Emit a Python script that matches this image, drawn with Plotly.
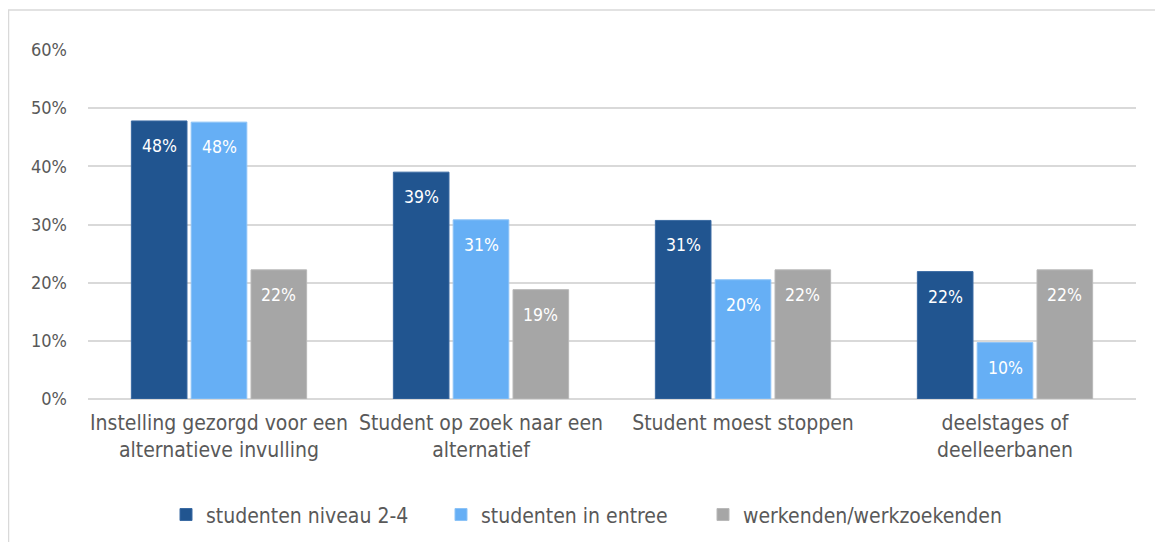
import plotly.graph_objects as go

categories = ["Instelling gezorgd voor een<br>alternatieve invulling",
              "Student op zoek naar een<br>alternatief",
              "Student moest stoppen",
              "deelstages of<br>deelleerbanen"]
series_names = ["studenten niveau 2-4", "studenten in entree", "werkenden/werkzoekenden"]
niveau = [0.478, 0.390, 0.307, 0.219]
entree = [0.476, 0.308, 0.205, 0.097]
werkenden = [0.222, 0.188, 0.222, 0.222]
colors = ["#215590", "#66AFF5", "#A6A6A6"]
line_colors = ["#3A6AA3", "#8CC3F7", "#B8B8B8"]

FONT = "DejaVu Sans Condensed, Noto Sans, sans-serif"

# body of the html page has an 8px margin
W, H = 1155, 534
L, R, T, B = 80, 27, 42, 143
pw = W - L - R
ph = H - T - B
BARGAP = 0.315
slot = pw / len(categories) * (1 - BARGAP) / 3
legend_left = [172, 447, 709]  # figure px where each legend entry starts

fig = go.Figure()
annotations = []
all_series = [niveau, entree, werkenden]
legend_ids = ["legend", "legend2", "legend3"]
for i, (name, vals, c, lc) in enumerate(zip(series_names, all_series, colors, line_colors)):
    fig.add_trace(go.Bar(
        x=categories, y=vals, name=name, legend=legend_ids[i],
        marker=dict(color=c, line=dict(color=lc, width=1)),
        hoverinfo="skip",
    ))
    for cat, v in zip(categories, vals):
        annotations.append(dict(
            x=cat, y=v, xref="x", yref="y", text=f"{round(v*100)}%",
            showarrow=False, yanchor="top", xanchor="center",
            xshift=(i - 1) * slot, yshift=-13,
            font=dict(color="white", size=17.5, family=FONT),
        ))

legends = {}
for i, lid in enumerate(legend_ids):
    legends[lid] = dict(orientation="h", x=(legend_left[i] - 14 - L) / pw, xanchor="left",
                        y=-0.332, yanchor="middle", bgcolor="rgba(0,0,0,0)",
                        font=dict(size=21, color="#595959"), itemwidth=30)

fig.update_layout(
    width=W, height=H,
    margin=dict(l=L, r=R, t=T, b=B, autoexpand=False),
    paper_bgcolor="white", plot_bgcolor="white",
    barmode="group", bargap=BARGAP, bargroupgap=0.07,
    font=dict(family=FONT, size=18, color="#595959"),
    showlegend=True,
    xaxis=dict(showgrid=False, showline=False, ticks="", tickfont=dict(size=21),
               ticklabelstandoff=9, automargin=False),
    yaxis=dict(range=[0, 0.6], dtick=0.1, tickformat=".0%", showgrid=True,
               gridcolor="#D9D9D9", gridwidth=1.5, zeroline=True, zerolinecolor="#D9D9D9",
               zerolinewidth=1.5, ticks="", tickfont=dict(size=18), ticklabelstandoff=20,
               automargin=False),
    annotations=annotations,
    shapes=[dict(type="rect", xref="paper", yref="paper",
                 x0=(0.5 - L) / pw, x1=(W + 20 - L) / pw,
                 y0=(ph + T - H - 20) / ph, y1=(ph + T - 2) / ph,
                 line=dict(color="#D9D9D9", width=1.5), fillcolor="rgba(0,0,0,0)", layer="below")],
    **legends,
)
fig.write_html("out.html")
